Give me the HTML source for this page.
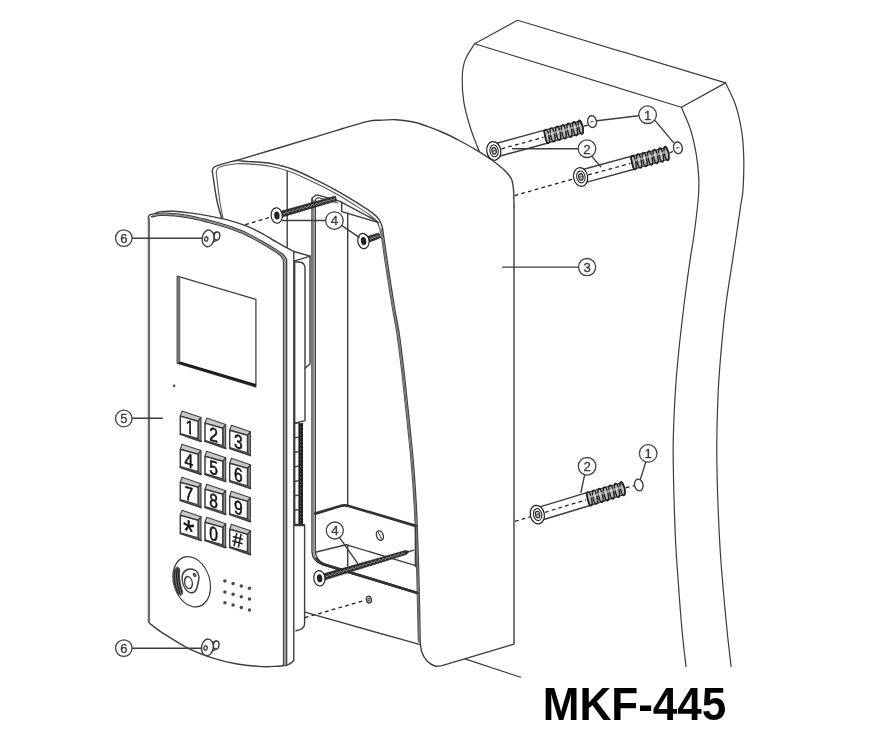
<!DOCTYPE html>
<html lang="en"><head><meta charset="utf-8"><title>MKF-445</title>
<style>
html,body{margin:0;padding:0;background:#fff;}
body{width:874px;height:750px;overflow:hidden;font-family:"Liberation Sans",sans-serif;}
svg{display:block;}
svg text{font-family:"Liberation Sans",sans-serif;}
.l{fill:none;stroke:#3e3e3e;stroke-width:1.4;stroke-linecap:round;stroke-linejoin:round;}
.w{fill:none;stroke:#3a3a3a;stroke-width:1.2;stroke-linecap:round;stroke-linejoin:round;}
.t{stroke-width:1.1;stroke:#555;}
.t2{stroke-width:0.7;stroke:#9a9a9a;}
.g{fill:none;stroke:#8c8c8c;stroke-width:1.4;}
.d{fill:none;stroke:#1a1a1a;stroke-width:1.25;stroke-dasharray:3.7 3.3;}
.lab{fill:#fff;stroke:#444;stroke-width:1.3;}
.labt{fill:#3a3a3a;stroke:#3a3a3a;stroke-width:0.3;}
.kt{font-size:19.5px;fill:#111;stroke:#111;stroke-width:0.55;}
</style></head><body>
<svg width="874" height="750" viewBox="0 0 874 750">
<defs><filter id="bl" x="0" y="0" width="874" height="750" filterUnits="userSpaceOnUse"><feGaussianBlur stdDeviation="0.6"/></filter><clipPath id="c1"><path d="M-4.6 -16 L1.6 -16 L1.6 .5 L-.85 .5 L-.85 -1.95 L-4.6 -1.95Z"/></clipPath></defs>
<rect width="874" height="750" fill="#fff"/>
<g filter="url(#bl)">
<path class="w" d="M474.6 43.7 L517.6 20.3 L725.6 82.9 L681.4 107.3 Z" />
<path class="w" d="M474.6 43.7 C473.0 46.4 467.3 54.3 465.2 59.9 C463.1 65.5 462.4 70.3 462.2 77.4 C462.0 84.5 462.6 94.0 463.9 102.3 C465.2 110.6 467.9 119.8 470.2 127.3 C472.5 134.8 476.1 143.2 477.6 147.2 C479.2 151.2 479.2 150.8 479.5 151.5" />
<path class="w" d="M725.6 82.9 C727.2 86.6 732.8 96.6 735.5 104.8 C738.2 113.0 740.4 123.0 741.8 132.2 C743.2 141.3 743.6 150.1 743.8 159.7 C744.0 169.3 743.5 181.7 743.0 189.6 C742.5 197.5 742.1 195.8 740.5 207.0 C738.9 218.2 735.6 240.3 733.1 256.9 C730.6 273.5 727.7 290.2 725.6 306.8 C723.5 323.4 721.9 342.2 720.6 356.7 C719.4 371.2 718.7 379.5 718.1 394.0 C717.5 408.5 716.9 427.3 716.8 443.9 C716.7 460.5 717.1 477.2 717.6 493.8 C718.1 510.4 719.0 529.2 719.8 543.7 C720.6 558.2 721.3 566.6 722.5 581.0 C723.7 595.4 725.6 615.8 727.0 630.0 C728.4 644.2 730.4 660.4 731.1 666.5" />
<path class="w" d="M681.4 107.3 C682.9 111.0 688.1 121.9 690.6 129.8 C693.1 137.7 694.9 146.9 696.3 154.7 C697.6 162.5 698.3 170.1 698.7 176.8 C699.1 183.5 698.8 189.6 698.5 195.0 C698.2 200.4 698.0 202.3 697.2 209.0 C696.5 215.7 695.2 226.2 694.0 235.0 C692.8 243.8 691.5 249.8 689.8 261.8 C688.1 273.8 685.7 291.0 683.8 306.8 C681.9 322.6 679.6 342.2 678.2 356.7 C676.8 371.2 676.0 379.5 675.2 394.0 C674.4 408.5 673.4 427.3 673.2 443.9 C673.0 460.5 673.5 477.2 673.9 493.8 C674.3 510.4 675.0 529.2 675.7 543.7 C676.4 558.2 677.2 566.6 678.2 581.0 C679.2 595.4 680.7 615.8 682.0 630.0 C683.3 644.2 685.3 660.4 686.0 666.5" />
<line class="w" x1="464.9" y1="658.9" x2="520.6" y2="677.2" />
<path d="M212.3 171.5 C212.5 170.9 212.5 168.9 213.3 167.9 C214.1 166.9 214.8 166.5 217.2 165.6 C219.6 164.7 224.4 163.4 227.5 162.6 C230.6 161.8 233.7 160.8 236.0 160.5 C238.3 160.2 238.9 160.8 241.2 161.0 C243.5 161.2 246.6 161.4 249.7 161.6 C252.8 161.8 256.6 162.0 260.0 162.3 C263.4 162.6 264.7 162.2 270.0 163.3 C275.3 164.4 284.0 166.1 292.0 169.0 C300.0 171.9 310.3 177.1 318.0 180.8 C325.7 184.5 331.6 187.7 338.0 191.3 C344.4 194.9 350.4 198.6 356.1 202.2 C361.8 205.8 368.1 209.7 372.0 212.6 C375.9 215.5 377.6 217.2 379.3 219.8 C381.1 222.4 382.0 226.6 382.5 228.0 C382.8 230.0 383.4 234.3 384.2 240.0 C385.0 245.7 386.2 254.3 387.4 262.1 C388.6 269.9 389.9 278.9 391.2 287.0 C392.5 295.1 393.8 303.3 395.1 311.0 C396.4 318.7 397.7 323.6 399.1 333.4 C400.6 343.2 402.6 359.9 403.8 370.0 C405.0 380.1 404.9 379.6 406.4 394.0 C407.9 408.4 411.1 437.7 412.8 456.4 C414.5 475.1 415.4 489.6 416.3 506.2 C417.2 522.8 417.6 538.8 418.2 556.1 C418.8 573.4 419.3 595.7 419.6 610.0 C419.9 624.3 420.1 636.7 420.2 642.0 C420.5 643.7 420.7 648.8 421.8 652.0 C422.9 655.2 424.8 658.7 427.0 661.0 C429.2 663.3 432.5 665.2 435.0 666.0 C437.5 666.8 440.8 665.7 442.0 665.6 L514 644.2 L514 207  C513.9 203.9 513.9 193.0 513.4 188.3 C512.9 183.6 512.7 181.6 511.3 178.7 C509.9 175.8 508.1 173.8 504.9 170.7 C501.7 167.6 496.9 163.8 492.1 160.3 C487.3 156.8 481.4 153.1 476.1 149.9 C470.8 146.7 465.4 143.8 460.1 141.0 C454.8 138.2 449.4 135.4 444.1 133.0 C438.8 130.6 433.5 128.5 428.1 126.6 C422.8 124.7 417.4 122.9 412.0 121.8 C406.6 120.7 401.3 120.0 396.0 119.7 C390.7 119.4 384.7 119.9 380.0 120.2 C375.3 120.5 374.1 120.0 367.9 121.4 C361.7 122.8 351.3 126.1 343.0 128.5 C334.7 130.9 322.2 134.8 318.0 136.0 L236 160.5 Z" fill="#fff" stroke="none"/>
<path class="l" d="M212.3 171.5 C212.5 170.9 212.5 168.9 213.3 167.9 C214.1 166.9 214.8 166.5 217.2 165.6 C219.6 164.7 224.4 163.4 227.5 162.6 C230.6 161.8 233.7 160.8 236.0 160.5 C238.3 160.2 238.9 160.8 241.2 161.0 C243.5 161.2 246.6 161.4 249.7 161.6 C252.8 161.8 256.6 162.0 260.0 162.3 C263.4 162.6 264.7 162.2 270.0 163.3 C275.3 164.4 284.0 166.1 292.0 169.0 C300.0 171.9 310.3 177.1 318.0 180.8 C325.7 184.5 331.6 187.7 338.0 191.3 C344.4 194.9 350.4 198.6 356.1 202.2 C361.8 205.8 368.1 209.7 372.0 212.6 C375.9 215.5 377.6 217.2 379.3 219.8 C381.1 222.4 382.0 226.6 382.5 228.0 C382.8 230.0 383.4 234.3 384.2 240.0 C385.0 245.7 386.2 254.3 387.4 262.1 C388.6 269.9 389.9 278.9 391.2 287.0 C392.5 295.1 393.8 303.3 395.1 311.0 C396.4 318.7 397.7 323.6 399.1 333.4 C400.6 343.2 402.6 359.9 403.8 370.0 C405.0 380.1 404.9 379.6 406.4 394.0 C407.9 408.4 411.1 437.7 412.8 456.4 C414.5 475.1 415.4 489.6 416.3 506.2 C417.2 522.8 417.6 538.8 418.2 556.1 C418.8 573.4 419.3 595.7 419.6 610.0 C419.9 624.3 420.1 636.7 420.2 642.0 C420.5 643.7 420.7 648.8 421.8 652.0 C422.9 655.2 424.8 658.7 427.0 661.0 C429.2 663.3 432.5 665.2 435.0 666.0 C437.5 666.8 440.8 665.7 442.0 665.6 L514 644.2 L514 207" />
<path class="l" d="M514.0 207.0 C513.9 203.9 513.9 193.0 513.4 188.3 C512.9 183.6 512.7 181.6 511.3 178.7 C509.9 175.8 508.1 173.8 504.9 170.7 C501.7 167.6 496.9 163.8 492.1 160.3 C487.3 156.8 481.4 153.1 476.1 149.9 C470.8 146.7 465.4 143.8 460.1 141.0 C454.8 138.2 449.4 135.4 444.1 133.0 C438.8 130.6 433.5 128.5 428.1 126.6 C422.8 124.7 417.4 122.9 412.0 121.8 C406.6 120.7 401.3 120.0 396.0 119.7 C390.7 119.4 384.7 119.9 380.0 120.2 C375.3 120.5 374.1 120.0 367.9 121.4 C361.7 122.8 351.3 126.0 343.0 128.5 C334.7 131.0 335.8 130.8 318.0 136.2 C300.2 141.5 249.7 156.5 236.0 160.6" />
<path class="g" d="M381.2 228.5 C381.5 230.4 382.2 234.4 383.0 240.0 C383.9 245.6 385.1 254.3 386.2 262.1 C387.4 269.9 388.8 278.9 390.0 287.0 C391.3 295.1 392.6 303.3 394.0 311.0 C395.3 318.7 396.5 323.6 398.0 333.4 C399.4 343.2 401.4 359.9 402.6 370.0 C403.9 380.1 403.7 379.6 405.2 394.0 C406.8 408.4 410.0 437.7 411.7 456.4 C413.4 475.1 414.3 489.6 415.2 506.2 C416.2 522.8 416.6 538.8 417.2 556.1 C417.8 573.4 418.3 595.7 418.6 610.0 C418.9 624.3 419.1 636.7 419.2 642.0" style="stroke:#7a7a7a;stroke-width:1.6"/>
<path class="l t" d="M216.2 172.5 C216.4 171.9 216.7 169.8 217.4 168.8 C218.1 167.9 218.8 167.4 220.5 166.8 C222.2 166.2 224.7 165.5 227.5 165.0 C230.3 164.5 233.7 163.9 237.1 163.7 C240.5 163.5 244.2 163.7 248.0 163.9 C251.8 164.1 256.3 164.5 260.0 164.9 C263.7 165.3 264.8 165.0 270.0 166.2 C275.2 167.4 283.2 169.0 291.0 171.9 C298.8 174.8 309.3 180.1 317.0 183.8 C324.7 187.5 330.7 190.7 337.0 194.3 C343.3 197.9 349.5 201.8 355.0 205.3 C360.5 208.8 366.4 212.5 370.0 215.2 C373.6 217.9 375.2 219.3 376.8 221.6 C378.4 223.9 379.4 227.8 379.9 229.0 C380.2 230.8 381.0 234.5 381.9 240.0 C382.8 245.5 383.9 254.3 385.1 262.1 C386.3 269.9 387.6 278.9 388.9 287.0 C390.2 295.1 391.5 303.3 392.8 311.0 C394.1 318.7 395.4 323.6 396.8 333.4 C398.2 343.2 400.3 359.9 401.5 370.0 C402.7 380.1 402.6 379.6 404.1 394.0 C405.6 408.4 408.9 437.7 410.6 456.4 C412.3 475.1 413.3 489.6 414.2 506.2 C415.1 522.8 415.6 538.8 416.2 556.1 C416.8 573.4 417.2 595.7 417.6 610.0 C418.0 624.3 418.2 636.7 418.3 642.0" />
<path class="l" d="M212.3 171.5 C213.1 176.2 215.2 192.2 216.8 200.0 C218.4 207.8 220.8 215.0 221.6 218.0" />
<path class="l t" d="M216.2 172.5 C216.8 177.1 218.5 192.4 219.6 200.0 C220.7 207.6 222.4 215.0 223.0 218.0" />
<line class="l" x1="287.2" y1="171.5" x2="287.2" y2="250.0" />
<line class="l" x1="502.6" y1="267.1" x2="578.4" y2="267.1" />
<path class="l" d="M312 203 L312 200.5 Q312.3 196 317.2 194.9 L340.1 201.3 L377.5 221.5" />
<path class="l t" d="M315.3 203 L315.3 201 Q315.6 198.2 318.2 197.6 L338 203" />
<path class="l" d="M341.7 202.4 L341.7 211.7 L378.8 222.6" />
<path class="l" d="M312 198 L312 552 Q312.5 561.5 322.9 564.9 L417.6 593.6" />
<path class="l" d="M315.3 200 L315.3 551 Q315.8 559.8 323.7 563.6 L417.4 592.4" />
<path class="g" d="M313.6 200 L313.6 552 Q314 561 323.3 564.2 L417.4 593.0" />
<path class="l" d="M316.5 558.5 Q318.5 562.4 323.3 564.2 L417.4 593.0" style="stroke-width:2.5;stroke:#323232"/>
<line class="l" x1="347.7" y1="213.3" x2="347.7" y2="505.0" />
<path class="l" d="M315.3 513.6 L339.5 506.2 Q344.5 504.7 349.5 506.2 L415.6 525.9" style="stroke-width:2.7;stroke:#303030"/>
<line class="l" x1="415.4" y1="525.0" x2="415.4" y2="566.5" />
<path class="l" d="M315.3 552.3 L346 544.7 L415.8 565.6" />
<line class="l" x1="347.7" y1="545.0" x2="347.7" y2="566.0" />
<ellipse class="l" cx="379.9" cy="535.5" rx="3.3" ry="5.0" transform="rotate(-20.0 379.9 535.5)" />
<line class="l t" x1="378.4" y1="532.6" x2="381.4" y2="538.4" />
<line class="l" x1="304.8" y1="612.2" x2="419.4" y2="644.4" />
<line class="d" x1="304.8" y1="617.7" x2="365.4" y2="600.2" />
<ellipse class="l" cx="368.9" cy="599.6" rx="2.4" ry="3.4" transform="rotate(-15.0 368.9 599.6)" />
<ellipse class="l t" cx="368.9" cy="599.6" rx="0.9" ry="1.4" transform="rotate(-15.0 368.9 599.6)" />
<line class="d" x1="245.3" y1="224.7" x2="270.5" y2="217.0" />
<path d="M277.5 210.9 L281.6 211.0 L335.4 196.0 L336.8 200.8 L283.3 216.7 L279.8 219.0 Z" fill="#2f2f2f" stroke="#222" stroke-width="0.6"/>
<path d="M282.2 213.0 L284.6 214.2 L286.0 211.9 L288.4 213.1 L289.7 210.8 L292.1 212.0 L293.5 209.7 L295.9 210.9 L297.3 208.7 L299.7 209.8 L301.0 207.6 L303.4 208.8 L304.8 206.5 L307.2 207.7 L308.6 205.4 L310.9 206.6 L312.3 204.3 L314.7 205.5 L316.1 203.2 L318.5 204.4 L319.9 202.2 L322.2 203.4 L323.6 201.1 L326.0 202.3 L327.4 200.0 L329.8 201.2 L331.1 198.9 L333.5 200.1 L334.9 197.8" fill="none" stroke="#9a9a9a" stroke-width="0.8"/>
<ellipse cx="276.7" cy="215.5" rx="5.6" ry="7.7" transform="rotate(-6.0 276.7 215.5)" fill="#fff" stroke="#1a1a1a" stroke-width="1.1"/>
<ellipse cx="276.9" cy="215.5" rx="2.7" ry="4.1" transform="rotate(-6.0 276.7 215.5)" fill="#222"/>
<path d="M363.9 236.4 L368.1 236.2 L378.9 232.9 L380.6 237.8 L370.0 241.9 L366.7 244.3 Z" fill="#2f2f2f" stroke="#222" stroke-width="0.6"/>
<path d="M368.8 238.2 L370.6 239.5 L371.2 237.4 L373.0 238.6 L373.7 236.5 L375.5 237.8 L376.1 235.7 L377.9 237.0 L378.5 234.8" fill="none" stroke="#9a9a9a" stroke-width="0.8"/>
<ellipse cx="363.4" cy="241.0" rx="5.6" ry="7.7" transform="rotate(-9.0 363.4 241.0)" fill="#fff" stroke="#1a1a1a" stroke-width="1.1"/>
<ellipse cx="363.6" cy="241.0" rx="2.7" ry="4.1" transform="rotate(-9.0 363.4 241.0)" fill="#222"/>
<path d="M320.1 573.6 L324.3 573.6 L405.1 550.6 L409.9 551.3 L406.2 554.5 L326.0 579.6 L322.5 581.8 Z" fill="#2f2f2f" stroke="#222" stroke-width="0.6"/>
<path d="M324.9 575.7 L327.3 576.9 L328.8 574.6 L331.2 575.7 L332.6 573.4 L335.1 574.6 L336.5 572.2 L339.0 573.4 L340.4 571.1 L342.9 572.2 L344.3 569.9 L346.7 571.1 L348.2 568.8 L350.6 569.9 L352.0 567.6 L354.5 568.8 L355.9 566.5 L358.4 567.6 L359.8 565.3 L362.3 566.4 L363.7 564.1 L366.1 565.3 L367.6 563.0 L370.0 564.1 L371.4 561.8 L373.9 563.0 L375.3 560.7 L377.8 561.8 L379.2 559.5 L381.7 560.7 L383.1 558.4 L385.5 559.5 L387.0 557.2 L389.4 558.3 L390.8 556.0 L393.3 557.2 L394.7 554.9 L397.2 556.0 L398.6 553.7 L401.0 554.9 L402.5 552.6 L404.9 553.7" fill="none" stroke="#9a9a9a" stroke-width="0.8"/>
<ellipse cx="319.4" cy="578.3" rx="5.6" ry="7.7" transform="rotate(-6.6 319.4 578.3)" fill="#fff" stroke="#1a1a1a" stroke-width="1.1"/>
<ellipse cx="319.6" cy="578.3" rx="2.7" ry="4.1" transform="rotate(-6.6 319.4 578.3)" fill="#222"/>
<line class="l" x1="410.0" y1="551.3" x2="413.8" y2="550.1" />
<path class="l" d="M495.0 143.7 L543.8 130.4 L547.2 143.2 L498.4 156.5 Z" style="fill:#fff"/>
<line class="d" x1="501.5" y1="148.8" x2="543.6" y2="137.3" />
<path class="l" d="M543.8 130.4 L579.6 121.3 L583.1 126.5 L582.8 132.8 L547.2 143.2 Z" style="fill:#b8b8b8"/>
<ellipse cx="547.0" cy="136.4" rx="2" ry="7.1" transform="rotate(-11.3 547.0 136.4)" fill="none" stroke="#1c1c1c" stroke-width="1.4"/>
<ellipse cx="552.6" cy="134.9" rx="2" ry="7.1" transform="rotate(-11.3 552.6 134.9)" fill="none" stroke="#1c1c1c" stroke-width="1.4"/>
<ellipse cx="558.2" cy="133.3" rx="2" ry="7.1" transform="rotate(-11.3 558.2 133.3)" fill="none" stroke="#1c1c1c" stroke-width="1.4"/>
<ellipse cx="563.8" cy="131.8" rx="2" ry="7.1" transform="rotate(-11.3 563.8 131.8)" fill="none" stroke="#1c1c1c" stroke-width="1.4"/>
<ellipse cx="569.5" cy="130.2" rx="2" ry="7.1" transform="rotate(-11.3 569.5 130.2)" fill="none" stroke="#1c1c1c" stroke-width="1.4"/>
<ellipse cx="575.1" cy="128.7" rx="2" ry="7.1" transform="rotate(-11.3 575.1 128.7)" fill="none" stroke="#1c1c1c" stroke-width="1.4"/>
<ellipse cx="580.7" cy="127.2" rx="2" ry="7.1" transform="rotate(-11.3 580.7 127.2)" fill="none" stroke="#1c1c1c" stroke-width="1.4"/>
<line x1="547.0" y1="134.7" x2="579.8" y2="125.8" stroke="#e6e6e6" stroke-width="2.2" stroke-opacity="0.55"/>
<ellipse cx="493.8" cy="150.9" rx="7" ry="9.4" transform="rotate(-10.3 493.8 150.9)" fill="#fff" stroke="#1a1a1a" stroke-width="1.2"/>
<ellipse cx="494.1" cy="150.9" rx="4.2" ry="6" transform="rotate(-10.3 493.8 150.9)" fill="#fff" stroke="#1a1a1a" stroke-width="1"/>
<ellipse cx="494.1" cy="150.9" rx="2.2" ry="3.3" transform="rotate(-10.3 493.8 150.9)" fill="#c8c8c8" stroke="#1a1a1a" stroke-width="1.1"/>
<line class="l t" x1="491.9" y1="151.4" x2="496.3" y2="150.2" />
<line class="d" x1="584.1" y1="126.2" x2="588.0" y2="125.0" />
<ellipse class="l" cx="592.1" cy="121.6" rx="4.4" ry="5.9" transform="rotate(-10.0 592.1 121.6)" style="fill:#fff"/>
<line class="l t" x1="590.8" y1="121.9" x2="593.2" y2="121.3" />
<line class="d" x1="514.5" y1="195.6" x2="574.0" y2="178.7" />
<path class="l" d="M581.8 169.8 L630.6 156.5 L634.0 169.2 L585.2 182.6 Z" style="fill:#fff"/>
<line class="d" x1="588.3" y1="174.9" x2="630.4" y2="163.4" />
<path class="l" d="M630.6 156.5 L665.5 147.6 L669.0 152.9 L668.6 159.2 L634.0 169.2 Z" style="fill:#b8b8b8"/>
<ellipse cx="633.8" cy="162.5" rx="2" ry="7.1" transform="rotate(-11.3 633.8 162.5)" fill="none" stroke="#1c1c1c" stroke-width="1.4"/>
<ellipse cx="639.2" cy="161.0" rx="2" ry="7.1" transform="rotate(-11.3 639.2 161.0)" fill="none" stroke="#1c1c1c" stroke-width="1.4"/>
<ellipse cx="644.7" cy="159.5" rx="2" ry="7.1" transform="rotate(-11.3 644.7 159.5)" fill="none" stroke="#1c1c1c" stroke-width="1.4"/>
<ellipse cx="650.2" cy="158.0" rx="2" ry="7.1" transform="rotate(-11.3 650.2 158.0)" fill="none" stroke="#1c1c1c" stroke-width="1.4"/>
<ellipse cx="655.6" cy="156.5" rx="2" ry="7.1" transform="rotate(-11.3 655.6 156.5)" fill="none" stroke="#1c1c1c" stroke-width="1.4"/>
<ellipse cx="661.1" cy="155.0" rx="2" ry="7.1" transform="rotate(-11.3 661.1 155.0)" fill="none" stroke="#1c1c1c" stroke-width="1.4"/>
<ellipse cx="666.5" cy="153.5" rx="2" ry="7.1" transform="rotate(-11.3 666.5 153.5)" fill="none" stroke="#1c1c1c" stroke-width="1.4"/>
<line x1="633.8" y1="160.8" x2="665.6" y2="152.1" stroke="#e6e6e6" stroke-width="2.2" stroke-opacity="0.55"/>
<ellipse cx="580.6" cy="177.0" rx="7" ry="9.4" transform="rotate(-10.3 580.6 177.0)" fill="#fff" stroke="#1a1a1a" stroke-width="1.2"/>
<ellipse cx="580.9" cy="177.0" rx="4.2" ry="6" transform="rotate(-10.3 580.6 177.0)" fill="#fff" stroke="#1a1a1a" stroke-width="1"/>
<ellipse cx="580.9" cy="177.0" rx="2.2" ry="3.3" transform="rotate(-10.3 580.6 177.0)" fill="#c8c8c8" stroke="#1a1a1a" stroke-width="1.1"/>
<line class="l t" x1="578.7" y1="177.5" x2="583.1" y2="176.3" />
<line class="d" x1="670.0" y1="152.6" x2="673.0" y2="151.5" />
<ellipse class="l" cx="677.9" cy="147.8" rx="4.4" ry="5.9" transform="rotate(-10.0 677.9 147.8)" style="fill:#fff"/>
<line class="l t" x1="676.6" y1="148.1" x2="679.0" y2="147.5" />
<line class="d" x1="515.0" y1="521.3" x2="530.0" y2="516.8" />
<path class="l" d="M538.3 507.4 L586.1 492.9 L589.9 505.5 L542.1 520.0 Z" style="fill:#fff"/>
<line class="d" x1="545.0" y1="512.3" x2="586.1" y2="499.8" />
<path class="l" d="M586.1 492.9 L621.2 482.9 L624.9 488.0 L624.7 494.3 L589.9 505.5 Z" style="fill:#b8b8b8"/>
<ellipse cx="589.5" cy="498.8" rx="2" ry="7.1" transform="rotate(-12.9 589.5 498.8)" fill="none" stroke="#1c1c1c" stroke-width="1.4"/>
<ellipse cx="595.0" cy="497.1" rx="2" ry="7.1" transform="rotate(-12.9 595.0 497.1)" fill="none" stroke="#1c1c1c" stroke-width="1.4"/>
<ellipse cx="600.5" cy="495.4" rx="2" ry="7.1" transform="rotate(-12.9 600.5 495.4)" fill="none" stroke="#1c1c1c" stroke-width="1.4"/>
<ellipse cx="606.0" cy="493.8" rx="2" ry="7.1" transform="rotate(-12.9 606.0 493.8)" fill="none" stroke="#1c1c1c" stroke-width="1.4"/>
<ellipse cx="611.5" cy="492.1" rx="2" ry="7.1" transform="rotate(-12.9 611.5 492.1)" fill="none" stroke="#1c1c1c" stroke-width="1.4"/>
<ellipse cx="617.0" cy="490.4" rx="2" ry="7.1" transform="rotate(-12.9 617.0 490.4)" fill="none" stroke="#1c1c1c" stroke-width="1.4"/>
<ellipse cx="622.5" cy="488.7" rx="2" ry="7.1" transform="rotate(-12.9 622.5 488.7)" fill="none" stroke="#1c1c1c" stroke-width="1.4"/>
<line x1="589.5" y1="497.1" x2="621.5" y2="487.4" stroke="#e6e6e6" stroke-width="2.2" stroke-opacity="0.55"/>
<ellipse cx="537.3" cy="514.6" rx="7" ry="9.4" transform="rotate(-11.9 537.3 514.6)" fill="#fff" stroke="#1a1a1a" stroke-width="1.2"/>
<ellipse cx="537.6" cy="514.6" rx="4.2" ry="6" transform="rotate(-11.9 537.3 514.6)" fill="#fff" stroke="#1a1a1a" stroke-width="1"/>
<ellipse cx="537.6" cy="514.6" rx="2.2" ry="3.3" transform="rotate(-11.9 537.3 514.6)" fill="#c8c8c8" stroke="#1a1a1a" stroke-width="1.1"/>
<line class="l t" x1="535.4" y1="515.1" x2="539.8" y2="513.9" />
<line class="d" x1="625.9" y1="487.7" x2="634.0" y2="485.8" />
<ellipse class="l" cx="638.8" cy="485.0" rx="4.2" ry="5.9" transform="rotate(-12.0 638.8 485.0)" style="fill:#fff"/>
<line class="l" x1="638.6" y1="115.7" x2="597.0" y2="120.8" />
<line class="l" x1="654.9" y1="120.4" x2="673.6" y2="142.6" />
<line class="l" x1="578.2" y1="148.8" x2="512.5" y2="148.8" />
<line class="l" x1="592.0" y1="156.6" x2="600.8" y2="166.7" />
<line class="l" x1="645.8" y1="461.9" x2="640.3" y2="479.6" />
<line class="l" x1="584.6" y1="475.1" x2="580.9" y2="492.3" />
<circle class="lab" cx="647.6" cy="114.7" r="8.8"/>
<text x="647.6" y="119.5" font-size="13.2" text-anchor="middle" class="labt">1</text>
<circle class="lab" cx="587.0" cy="148.7" r="8.8"/>
<text x="587.0" y="153.5" font-size="13.2" text-anchor="middle" class="labt">2</text>
<circle class="lab" cx="587.1" cy="267.1" r="8.6"/>
<text x="587.1" y="271.9" font-size="13.2" text-anchor="middle" class="labt">3</text>
<circle class="lab" cx="648.2" cy="453.4" r="8.8"/>
<text x="648.2" y="458.2" font-size="13.2" text-anchor="middle" class="labt">1</text>
<circle class="lab" cx="587.1" cy="466.3" r="8.8"/>
<text x="587.1" y="471.1" font-size="13.2" text-anchor="middle" class="labt">2</text>
<path class="l" d="M294 251.5 L310.2 256.2 L294.7 260.8" />
<path class="l" d="M294.7 260.8 L294.7 423.2 L305 420.6 L305 268 Q304.6 262.3 299 262 L294.7 262" style="fill:#fff"/>
<path class="l" d="M310 256.2 L310 364 L305 368.2" />
<rect x="298.4" y="423" width="4.6" height="101.5" fill="#222"/>
<line x1="300.7" y1="423" x2="300.7" y2="524.5" stroke="#777" stroke-width="1" stroke-dasharray="1 2.6"/>
<path class="l" d="M294.7 423.2 L294.7 524.5" />
<line class="l" x1="294.7" y1="423.2" x2="298.8" y2="422.6" />
<line class="l" x1="294.7" y1="437.7" x2="298.8" y2="437.1" />
<line class="l" x1="294.7" y1="452.2" x2="298.8" y2="451.6" />
<line class="l" x1="294.7" y1="466.7" x2="298.8" y2="466.1" />
<line class="l" x1="294.7" y1="481.2" x2="298.8" y2="480.6" />
<line class="l" x1="294.7" y1="495.7" x2="298.8" y2="495.1" />
<line class="l" x1="294.7" y1="510.2" x2="298.8" y2="509.6" />
<path class="l" d="M294.2 525.3 L304.6 525.3 L304.6 624 Q304.4 629.2 296 630.8" style="fill:#fff"/>
<rect x="294.2" y="523.8" width="10.4" height="2.4" fill="#333"/>
<path d="M155.0 213.4 C155.9 213.1 157.4 211.9 160.6 211.6 C163.8 211.2 169.2 211.1 174.3 211.3 C179.5 211.6 185.8 212.3 191.5 213.1 C197.2 213.9 203.8 215.0 208.6 215.9 C213.4 216.8 216.5 217.5 220.1 218.3 C223.7 219.1 225.8 219.4 230.0 220.6 C234.2 221.8 240.2 223.6 245.4 225.6 C250.6 227.6 255.7 230.1 260.9 232.8 C266.0 235.5 272.0 239.4 276.3 241.9 C280.6 244.4 283.7 246.1 286.6 247.7 C289.5 249.3 292.6 250.8 293.8 251.4 L293.8 660.5 Q291 664 286.6 665.3 L286.6 259.5 L160 214 Z" fill="#fff" stroke="none"/>
<path class="l" d="M155.0 213.4 C155.9 213.1 157.4 211.9 160.6 211.6 C163.8 211.2 169.2 211.1 174.3 211.3 C179.5 211.6 185.8 212.3 191.5 213.1 C197.2 213.9 203.8 215.0 208.6 215.9 C213.4 216.8 216.5 217.5 220.1 218.3 C223.7 219.1 225.8 219.4 230.0 220.6 C234.2 221.8 240.2 223.6 245.4 225.6 C250.6 227.6 255.7 230.1 260.9 232.8 C266.0 235.5 272.0 239.4 276.3 241.9 C280.6 244.4 283.7 246.1 286.6 247.7 C289.5 249.3 292.6 250.8 293.8 251.4 L293.8 660.5 Q291 664 286.6 665.3" />
<path d="M148.2 218.6 C148.3 218.2 148.4 216.6 148.9 215.9 C149.4 215.2 149.2 214.9 151.2 214.4 C153.1 213.9 156.8 213.3 160.6 213.2 C164.4 213.1 169.2 213.1 174.3 213.6 C179.5 214.1 185.8 215.0 191.5 216.1 C197.2 217.2 203.8 219.0 208.6 220.2 C213.4 221.4 216.5 222.4 220.1 223.4 C223.7 224.4 225.8 224.9 230.0 226.4 C234.2 227.9 240.2 230.0 245.4 232.4 C250.6 234.8 255.7 237.8 260.9 240.7 C266.0 243.6 272.6 247.5 276.3 249.8 C280.0 252.1 281.3 253.0 283.0 254.6 C284.7 256.2 286.0 258.7 286.6 259.5 L286.6 665.3  C285.2 665.4 282.1 666.0 278.0 666.2 C273.9 666.4 268.9 667.0 262.1 666.6 C255.3 666.2 245.5 665.5 237.2 664.0 C228.9 662.5 220.5 660.5 212.2 657.8 C203.9 655.1 195.6 652.0 187.3 647.8 C179.0 643.6 168.1 636.4 162.4 632.8 C156.7 629.2 155.1 627.6 153.0 626.0 C150.9 624.4 150.4 624.2 149.6 623.2 C148.8 622.2 148.5 620.5 148.3 620.0 Z" fill="#fff" stroke="none"/>
<path class="l" d="M148.2 218.6 C148.3 218.2 148.4 216.6 148.9 215.9 C149.4 215.2 149.2 214.9 151.2 214.4 C153.1 213.9 156.8 213.3 160.6 213.2 C164.4 213.1 169.2 213.1 174.3 213.6 C179.5 214.1 185.8 215.0 191.5 216.1 C197.2 217.2 203.8 219.0 208.6 220.2 C213.4 221.4 216.5 222.4 220.1 223.4 C223.7 224.4 225.8 224.9 230.0 226.4 C234.2 227.9 240.2 230.0 245.4 232.4 C250.6 234.8 255.7 237.8 260.9 240.7 C266.0 243.6 272.6 247.5 276.3 249.8 C280.0 252.1 281.3 253.0 283.0 254.6 C284.7 256.2 286.0 258.7 286.6 259.5 L286.6 665.3  C285.2 665.4 282.1 666.0 278.0 666.2 C273.9 666.4 268.9 667.0 262.1 666.6 C255.3 666.2 245.5 665.5 237.2 664.0 C228.9 662.5 220.5 660.5 212.2 657.8 C203.9 655.1 195.6 652.0 187.3 647.8 C179.0 643.6 168.1 636.4 162.4 632.8 C156.7 629.2 155.1 627.6 153.0 626.0 C150.9 624.4 150.4 624.2 149.6 623.2 C148.8 622.2 148.5 620.5 148.3 620.0" />
<path class="l" d="M148.9 621.9 L148.9 219 " style="stroke-width:2.3;stroke:#6c6c6c"/>
<path class="l" d="M151.5 216.8 C153.0 216.6 156.8 215.6 160.6 215.4 C164.4 215.2 169.2 215.3 174.3 215.8 C179.5 216.3 185.8 217.2 191.5 218.3 C197.2 219.4 203.8 221.2 208.6 222.4 C213.4 223.6 216.5 224.6 220.1 225.6 C223.7 226.6 225.8 227.1 230.0 228.6 C234.2 230.1 240.2 232.2 245.4 234.6 C250.6 237.0 255.9 240.1 260.9 242.9 C265.9 245.7 272.0 249.5 275.3 251.6 C278.6 253.7 279.2 254.1 280.6 255.6 C282.0 257.1 283.1 259.7 283.6 260.5 L283.6 664.8" />
<path class="g" d="M152.0 215.6 C153.4 215.4 156.9 214.5 160.6 214.3 C164.3 214.2 169.2 214.2 174.3 214.7 C179.5 215.2 185.8 216.1 191.5 217.2 C197.2 218.3 203.8 220.1 208.6 221.3 C213.4 222.5 216.5 223.5 220.1 224.5 C223.7 225.5 225.8 226.0 230.0 227.5 C234.2 229.0 240.2 231.1 245.4 233.5 C250.6 235.9 255.8 238.9 260.9 241.8 C266.0 244.7 272.3 248.5 275.8 250.7 C279.3 252.9 280.2 253.5 281.8 255.1 C283.4 256.6 284.6 259.2 285.1 260.0 L285.1 665" />
<path class="l" d="M177.2 276.1 L255.9 299.3 L255.9 386.8 L177.2 363.2 Z" style="stroke-width:1.25"/>
<path d="M177.2 276.1 L180.3 277.2 L180.3 361.6 L177.2 363.2Z" fill="#707070"/>
<path d="M177.2 363.2 L180.3 361.4 L255.9 384 L255.9 386.8Z" fill="#1c1c1c"/>
<circle cx="174.1" cy="385.8" r="1.4" fill="#555"/>
<path class="l" d="M180.3 416.1 L182.0 411.1 L201.0 417.6 L198.1 421.2 Z" style="fill:#c9c9c9;stroke-width:1.1"/>
<path class="l" d="M198.1 421.2 L201.0 417.6 L201.0 441.4 L198.1 438.8 Z" style="fill:#8a8a8a;stroke-width:1.1"/>
<path class="l" d="M180.3 416.1 L198.1 421.2 L198.1 438.8 L180.3 433.7 Z" style="fill:#fff;stroke-width:1.5"/>
<line class="l" x1="180.3" y1="434.2" x2="201.0" y2="441.4" style="stroke-width:1.8"/>
<text class="kt" clip-path="url(#c1)" transform="matrix(0.8 0.228 0 1 189.9 434.3)" x="0" y="0" text-anchor="middle">1</text>
<path class="l" d="M205.0 423.1 L206.7 418.1 L225.7 424.6 L222.8 428.2 Z" style="fill:#c9c9c9;stroke-width:1.1"/>
<path class="l" d="M222.8 428.2 L225.7 424.6 L225.7 448.4 L222.8 445.8 Z" style="fill:#8a8a8a;stroke-width:1.1"/>
<path class="l" d="M205.0 423.1 L222.8 428.2 L222.8 445.8 L205.0 440.7 Z" style="fill:#fff;stroke-width:1.5"/>
<line class="l" x1="205.0" y1="441.2" x2="225.7" y2="448.4" style="stroke-width:1.8"/>
<text class="kt" transform="matrix(0.8 0.228 0 1 213.6 441.4)" x="0" y="0" text-anchor="middle">2</text>
<path class="l" d="M229.7 430.2 L231.4 425.2 L250.4 431.7 L247.5 435.3 Z" style="fill:#c9c9c9;stroke-width:1.1"/>
<path class="l" d="M247.5 435.3 L250.4 431.7 L250.4 455.5 L247.5 452.9 Z" style="fill:#8a8a8a;stroke-width:1.1"/>
<path class="l" d="M229.7 430.2 L247.5 435.3 L247.5 452.9 L229.7 447.8 Z" style="fill:#fff;stroke-width:1.5"/>
<line class="l" x1="229.7" y1="448.3" x2="250.4" y2="455.5" style="stroke-width:1.8"/>
<text class="kt" transform="matrix(0.8 0.228 0 1 238.3 448.4)" x="0" y="0" text-anchor="middle">3</text>
<path class="l" d="M180.3 449.2 L182.0 444.2 L201.0 450.6 L198.1 454.2 Z" style="fill:#c9c9c9;stroke-width:1.1"/>
<path class="l" d="M198.1 454.2 L201.0 450.6 L201.0 474.4 L198.1 471.8 Z" style="fill:#8a8a8a;stroke-width:1.1"/>
<path class="l" d="M180.3 449.2 L198.1 454.2 L198.1 471.8 L180.3 466.8 Z" style="fill:#fff;stroke-width:1.5"/>
<line class="l" x1="180.3" y1="467.3" x2="201.0" y2="474.4" style="stroke-width:1.8"/>
<text class="kt" transform="matrix(0.8 0.228 0 1 188.9 467.4)" x="0" y="0" text-anchor="middle">4</text>
<path class="l" d="M205.0 456.2 L206.7 451.2 L225.7 457.7 L222.8 461.3 Z" style="fill:#c9c9c9;stroke-width:1.1"/>
<path class="l" d="M222.8 461.3 L225.7 457.7 L225.7 481.5 L222.8 478.9 Z" style="fill:#8a8a8a;stroke-width:1.1"/>
<path class="l" d="M205.0 456.2 L222.8 461.3 L222.8 478.9 L205.0 473.8 Z" style="fill:#fff;stroke-width:1.5"/>
<line class="l" x1="205.0" y1="474.3" x2="225.7" y2="481.5" style="stroke-width:1.8"/>
<text class="kt" transform="matrix(0.8 0.228 0 1 213.6 474.4)" x="0" y="0" text-anchor="middle">5</text>
<path class="l" d="M229.7 463.2 L231.4 458.2 L250.4 464.7 L247.5 468.3 Z" style="fill:#c9c9c9;stroke-width:1.1"/>
<path class="l" d="M247.5 468.3 L250.4 464.7 L250.4 488.5 L247.5 485.9 Z" style="fill:#8a8a8a;stroke-width:1.1"/>
<path class="l" d="M229.7 463.2 L247.5 468.3 L247.5 485.9 L229.7 480.8 Z" style="fill:#fff;stroke-width:1.5"/>
<line class="l" x1="229.7" y1="481.3" x2="250.4" y2="488.5" style="stroke-width:1.8"/>
<text class="kt" transform="matrix(0.8 0.228 0 1 238.3 481.5)" x="0" y="0" text-anchor="middle">6</text>
<path class="l" d="M180.3 482.2 L182.0 477.2 L201.0 483.7 L198.1 487.3 Z" style="fill:#c9c9c9;stroke-width:1.1"/>
<path class="l" d="M198.1 487.3 L201.0 483.7 L201.0 507.5 L198.1 504.9 Z" style="fill:#8a8a8a;stroke-width:1.1"/>
<path class="l" d="M180.3 482.2 L198.1 487.3 L198.1 504.9 L180.3 499.8 Z" style="fill:#fff;stroke-width:1.5"/>
<line class="l" x1="180.3" y1="500.3" x2="201.0" y2="507.5" style="stroke-width:1.8"/>
<text class="kt" transform="matrix(0.8 0.228 0 1 188.9 500.4)" x="0" y="0" text-anchor="middle">7</text>
<path class="l" d="M205.0 489.2 L206.7 484.2 L225.7 490.7 L222.8 494.3 Z" style="fill:#c9c9c9;stroke-width:1.1"/>
<path class="l" d="M222.8 494.3 L225.7 490.7 L225.7 514.5 L222.8 511.9 Z" style="fill:#8a8a8a;stroke-width:1.1"/>
<path class="l" d="M205.0 489.2 L222.8 494.3 L222.8 511.9 L205.0 506.8 Z" style="fill:#fff;stroke-width:1.5"/>
<line class="l" x1="205.0" y1="507.3" x2="225.7" y2="514.5" style="stroke-width:1.8"/>
<text class="kt" transform="matrix(0.8 0.228 0 1 213.6 507.5)" x="0" y="0" text-anchor="middle">8</text>
<path class="l" d="M229.7 496.3 L231.4 491.3 L250.4 497.8 L247.5 501.4 Z" style="fill:#c9c9c9;stroke-width:1.1"/>
<path class="l" d="M247.5 501.4 L250.4 497.8 L250.4 521.6 L247.5 519.0 Z" style="fill:#8a8a8a;stroke-width:1.1"/>
<path class="l" d="M229.7 496.3 L247.5 501.4 L247.5 519.0 L229.7 513.9 Z" style="fill:#fff;stroke-width:1.5"/>
<line class="l" x1="229.7" y1="514.4" x2="250.4" y2="521.6" style="stroke-width:1.8"/>
<text class="kt" transform="matrix(0.8 0.228 0 1 238.3 514.5)" x="0" y="0" text-anchor="middle">9</text>
<path class="l" d="M180.3 515.2 L182.0 510.2 L201.0 516.7 L198.1 520.3 Z" style="fill:#c9c9c9;stroke-width:1.1"/>
<path class="l" d="M198.1 520.3 L201.0 516.7 L201.0 540.5 L198.1 537.9 Z" style="fill:#8a8a8a;stroke-width:1.1"/>
<path class="l" d="M180.3 515.2 L198.1 520.3 L198.1 537.9 L180.3 532.9 Z" style="fill:#fff;stroke-width:1.5"/>
<line class="l" x1="180.3" y1="533.4" x2="201.0" y2="540.5" style="stroke-width:1.8"/>
<text class="kt" style="font-size:31px;stroke-width:0.35" transform="matrix(0.95 0.271 0 1 188.8 541.8)" x="0" y="0" text-anchor="middle">*</text>
<path class="l" d="M205.0 522.3 L206.7 517.3 L225.7 523.8 L222.8 527.4 Z" style="fill:#c9c9c9;stroke-width:1.1"/>
<path class="l" d="M222.8 527.4 L225.7 523.8 L225.7 547.6 L222.8 545.0 Z" style="fill:#8a8a8a;stroke-width:1.1"/>
<path class="l" d="M205.0 522.3 L222.8 527.4 L222.8 545.0 L205.0 539.9 Z" style="fill:#fff;stroke-width:1.5"/>
<line class="l" x1="205.0" y1="540.4" x2="225.7" y2="547.6" style="stroke-width:1.8"/>
<text class="kt" transform="matrix(0.8 0.228 0 1 213.6 540.5)" x="0" y="0" text-anchor="middle">0</text>
<path class="l" d="M229.7 529.3 L231.4 524.3 L250.4 530.8 L247.5 534.4 Z" style="fill:#c9c9c9;stroke-width:1.1"/>
<path class="l" d="M247.5 534.4 L250.4 530.8 L250.4 554.6 L247.5 552.0 Z" style="fill:#8a8a8a;stroke-width:1.1"/>
<path class="l" d="M229.7 529.3 L247.5 534.4 L247.5 552.0 L229.7 546.9 Z" style="fill:#fff;stroke-width:1.5"/>
<line class="l" x1="229.7" y1="547.4" x2="250.4" y2="554.6" style="stroke-width:1.8"/>
<text class="kt" style="font-size:20px;stroke-width:0.45" transform="matrix(0.92 0.262 0 1 237.6 546.9)" x="0" y="0" text-anchor="middle">#</text>
<g transform="matrix(1 0.27 0 1 191.7 581.8)"><ellipse class="l" cx="0" cy="0" rx="18.8" ry="24.6" style="fill:#fff;stroke-width:1.2"/><path d="M-17.2 -9 Q-21.5 2 -14.5 16.5 Q-9 19 -8.5 12 Q-12.5 2 -11.5 -9 Q-13 -14 -17.2 -9Z" fill="#6a6a6a"/><path d="M-16.6 -8 Q-19.5 3 -13.5 16 M-14.4 -10 Q-17 2 -11.2 16 M-12.4 -10 Q-14.6 2 -9.4 14" fill="none" stroke="#1e1e1e" stroke-width="1.1"/><path class="l" d="M-9.5 1 C-10.5 -7 -5 -12.5 1 -12.8 C6.5 -13 8 -8 7 -3.5 C5.6 3 5 10.5 -1 11.2 C-6 11.6 -9 6 -9.5 1Z"/><ellipse class="l" cx="-3.2" cy="1.6" rx="3.9" ry="5.9"/><circle class="l" cx="2.9" cy="-7.6" r="1.2"/></g>
<circle cx="224.9" cy="581.1" r="1.75" fill="#4a4a4a"/>
<circle cx="233.1" cy="583.5" r="1.75" fill="#4a4a4a"/>
<circle cx="241.3" cy="585.9" r="1.75" fill="#4a4a4a"/>
<circle cx="249.5" cy="588.3" r="1.75" fill="#4a4a4a"/>
<circle cx="224.9" cy="591.9" r="1.75" fill="#4a4a4a"/>
<circle cx="233.1" cy="594.3" r="1.75" fill="#4a4a4a"/>
<circle cx="241.3" cy="596.7" r="1.75" fill="#4a4a4a"/>
<circle cx="249.5" cy="599.1" r="1.75" fill="#4a4a4a"/>
<circle cx="224.9" cy="602.7" r="1.75" fill="#4a4a4a"/>
<circle cx="233.1" cy="605.1" r="1.75" fill="#4a4a4a"/>
<circle cx="241.3" cy="607.5" r="1.75" fill="#4a4a4a"/>
<circle cx="249.5" cy="609.9" r="1.75" fill="#4a4a4a"/>
<ellipse class="l" cx="216.9" cy="236.1" rx="2.8" ry="4.1" transform="rotate(8.0 216.9 236.1)" style="fill:#fff"/>
<path class="l" d="M212.1 233.9 L216.7 232.1 M212.6 242.2 L217.1 240.2" />
<ellipse class="l" cx="208.1" cy="238.4" rx="5.9" ry="8.4" transform="rotate(8.0 208.1 238.4)" style="fill:#fff"/>
<ellipse class="l" cx="206.3" cy="239.0" rx="1.6" ry="2.2" transform="rotate(8.0 206.3 239.0)" />
<ellipse class="l" cx="216.2" cy="645.1" rx="2.8" ry="4.1" transform="rotate(8.0 216.2 645.1)" style="fill:#fff"/>
<path class="l" d="M211.4 642.9 L216.0 641.1 M211.9 651.2 L216.4 649.2" />
<ellipse class="l" cx="207.4" cy="647.4" rx="5.9" ry="8.4" transform="rotate(8.0 207.4 647.4)" style="fill:#fff"/>
<ellipse class="l" cx="205.6" cy="648.0" rx="1.6" ry="2.2" transform="rotate(8.0 205.6 648.0)" />
<line class="l" x1="131.7" y1="238.2" x2="202.3" y2="238.2" />
<line class="l" x1="131.7" y1="648.3" x2="201.7" y2="648.3" />
<line class="l" x1="131.7" y1="418.2" x2="162.4" y2="418.2" />
<circle class="lab" cx="123.8" cy="238.1" r="8.3"/>
<text x="123.8" y="242.8" font-size="13.0" text-anchor="middle" class="labt">6</text>
<circle class="lab" cx="123.8" cy="418.5" r="8.3"/>
<text x="123.8" y="423.2" font-size="13.0" text-anchor="middle" class="labt">5</text>
<circle class="lab" cx="123.8" cy="648.1" r="8.3"/>
<text x="123.8" y="652.8" font-size="13.0" text-anchor="middle" class="labt">6</text>
<line class="l" x1="282.4" y1="220.5" x2="325.7" y2="220.5" />
<line class="l" x1="341.5" y1="225.4" x2="359.2" y2="237.3" />
<circle class="lab" cx="334.4" cy="220.6" r="8.8"/>
<text x="334.4" y="225.4" font-size="13.2" text-anchor="middle" class="labt">4</text>
<line class="l" x1="339.6" y1="537.6" x2="357.5" y2="563.2" />
<circle class="lab" cx="334.8" cy="530.5" r="8.5"/>
<text x="334.8" y="535.3" font-size="13.2" text-anchor="middle" class="labt">4</text>
<text transform="translate(634.5 720) scale(0.946 1)" x="0" y="0" font-size="46.6" font-weight="bold" text-anchor="middle" fill="#000" class="ttl">MKF-445</text>
</g>
</svg>
</body></html>
